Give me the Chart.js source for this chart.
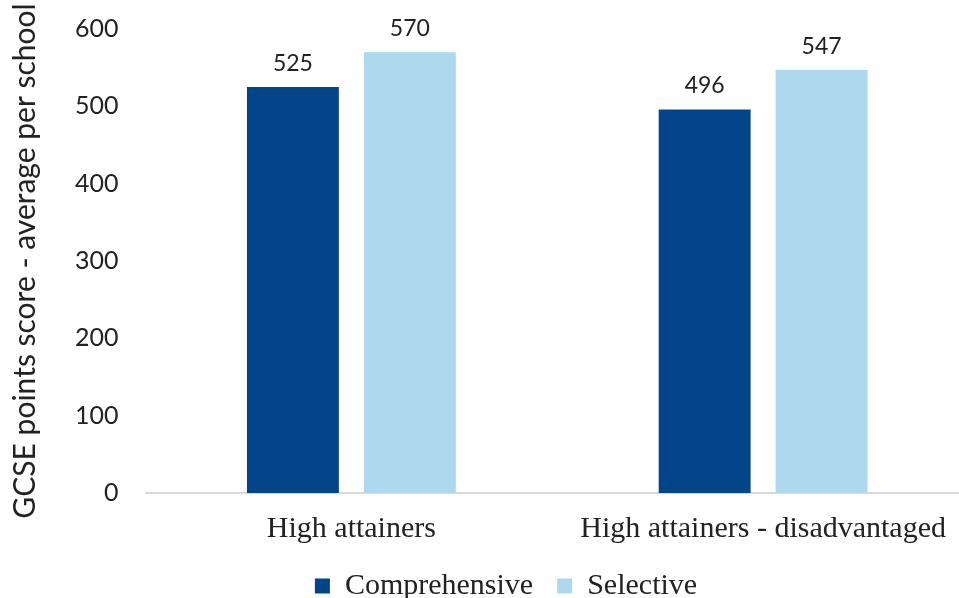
<!DOCTYPE html>
<html>
<head>
<meta charset="utf-8">
<script src="https://cdn.jsdelivr.net/npm/chart.js@4"></script>
<style>
html,body{margin:0;padding:0;background:#fff;overflow:hidden;}
#wrap{width:969px;height:611px;position:relative;}
</style>
</head>
<body>
<div id="wrap"><canvas id="c"></canvas></div>
<script>
const categories = ["High attainers", "High attainers - disadvantaged"];
const seriesNames = ["Comprehensive", "Selective"];
const comprehensive = [525, 496];
const selective = [570, 547];
const yTicks = [0, 100, 200, 300, 400, 500, 600];
const colors = ["#024488", "#add8ee"];

const valueLabels = {
  id: 'valueLabels',
  afterDatasetsDraw(chart) {
    const ctx = chart.ctx;
    ctx.save();
    ctx.font = '23px Lato';
    ctx.fillStyle = '#222';
    ctx.textAlign = 'center';
    ctx.textBaseline = 'alphabetic';
    chart.data.datasets.forEach((ds, i) => {
      chart.getDatasetMeta(i).data.forEach((bar, j) => {
        ctx.fillText(String(ds.data[j]), bar.x, bar.y - 16);
      });
    });
    ctx.restore();
  }
};

const legendShift = {
  id: 'legendShift',
  afterLayout(chart) {
    chart.legend.left += 18;
    chart.legend.right += 18;
  }
};

new Chart(document.getElementById('c'), {
  type: 'bar',
  data: {
    labels: categories,
    datasets: [
      {label: seriesNames[0], data: comprehensive, backgroundColor: colors[0]},
      {label: seriesNames[1], data: selective, backgroundColor: colors[1]}
    ]
  },
  options: {
    responsive: true,
    maintainAspectRatio: false,
    animation: false,
    layout: {padding: {top: 29, right: 0, left: 7, bottom: 0}},
    datasets: {bar: {categoryPercentage: 0.568, barPercentage: 0.786}},
    plugins: {
      legend: {
        position: 'bottom',
        labels: {
          font: {family: 'Liberation Serif', size: 30},
          color: '#222',
          boxWidth: 15,
          boxHeight: 15,
          padding: 24
        }
      },
      tooltip: {enabled: false}
    },
    scales: {
      x: {
        grid: {display: false, drawTicks: false},
        border: {display: true, color: '#d9d9d9', width: 2},
        ticks: {font: {family: 'Liberation Serif', size: 30}, color: '#222', padding: 18},
        afterFit(axis) { axis.height = 54; }
      },
      y: {
        min: 0, max: 600,
        afterBuildTicks(axis) { axis.ticks = yTicks.map(v => ({value: v})); },
        afterFit(axis) { axis.paddingTop = 0; axis.paddingBottom = 0; },
        grid: {display: false, drawTicks: false},
        border: {display: false},
        ticks: {font: {family: 'Lato', size: 25}, color: '#222', padding: 27},
        title: {display: true, text: 'GCSE points score - average per school', font: {family: 'Lato', size: 30}, color: '#222', padding: {top: 0, bottom: 5}}
      }
    }
  },
  plugins: [valueLabels, legendShift]
});
</script>
</body>
</html>
